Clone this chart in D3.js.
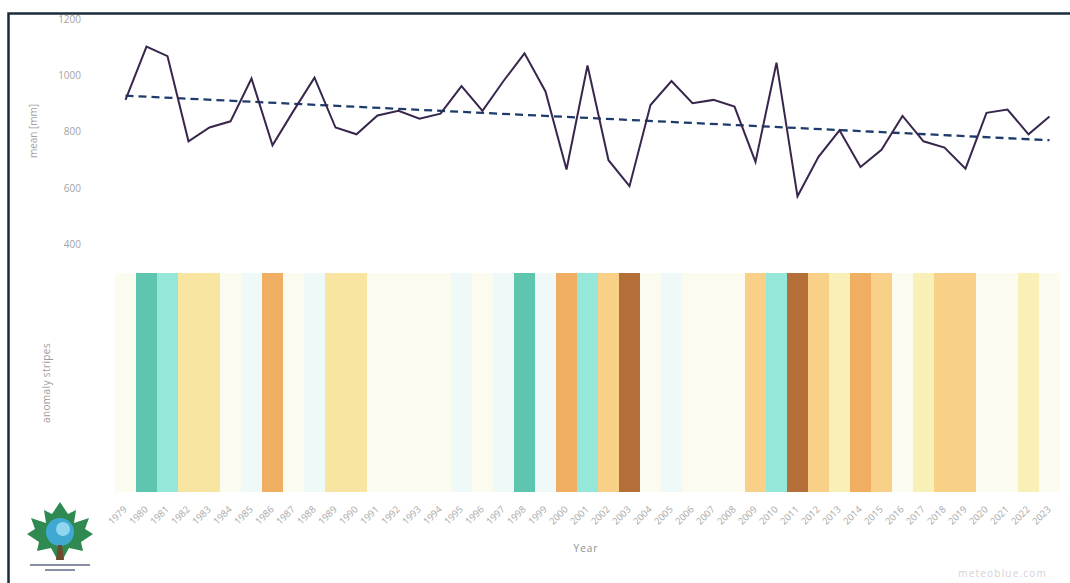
<!DOCTYPE html>
<html>
<head>
<meta charset="utf-8">
<script src="https://cdn.jsdelivr.net/npm/d3@7"></script>
<style>
  html, body { margin: 0; padding: 0; background: #fff; }
  svg { display: block; }
  text { font-family: "Open Sans", "DejaVu Sans", sans-serif; }
</style>
</head>
<body>
<svg id="chart" width="1070" height="583"></svg>
<script>
// ---- data ----
const years = d3.range(1979, 2024);
const precipitation = [
  913, 1102, 1068, 766, 815, 837, 989, 752, 874, 992,
  815, 791, 858, 874, 846, 864, 962, 874, 980, 1078,
  943, 666, 1035, 699, 607, 895, 980, 901, 913, 889,
  693, 1045, 571, 711, 805, 675, 736, 856, 766, 744,
  669, 867, 879, 791, 854
];
const trendEnds = [928, 770];
const anomalyClass = [
  0, 3, 2, -2, -2, 0, 1, -4, 0, 1,
  -2, -2, 0, 0, 0, 0, 1, 0, 1, 3,
  1, -4, 2, -3, -5, 0, 1, 0, 0, 0,
  -3, 2, -5, -3, -1, -4, -3, 0, -1, -3,
  -3, 0, 0, -1, 0
];
const yTicks = [400, 600, 800, 1000, 1200];
const classes = [3, 2, 1, 0, -1, -2, -3, -4, -5];

// ---- scales ----
const svg = d3.select("#chart");
const xb = d3.scaleBand().domain(years).range([115, 1060]).padding(0);
const x = d => xb(d) + xb.bandwidth() / 2;
const y = d3.scaleLinear().domain([400, 1200]).range([244.5, 19]);
const color = d3.scaleOrdinal().domain(classes).range([
  "#5ec5ae", "#95e7da", "#eef9f8", "#fcfbf0", "#f8f0b6",
  "#f8e5a2", "#f8d088", "#f0ae62", "#b46f39"
]);

// ---- stripes ----
svg.append("g").selectAll("rect")
  .data(years)
  .join("rect")
  .attr("x", d => xb(d))
  .attr("y", 273)
  .attr("width", xb.bandwidth() + 0.3)
  .attr("height", 219)
  .attr("fill", (d, i) => color(anomalyClass[i]));

// ---- y axis ----
const yAxis = d3.axisLeft(y).tickValues(yTicks).tickFormat(d3.format("d")).tickSize(0).tickPadding(0);
const gy = svg.append("g").attr("transform", "translate(81,0)").call(yAxis);
gy.select(".domain").remove();
gy.selectAll("text")
  .attr("fill", "#a3a3a3")
  .style("font-size", "10px");

svg.append("text")
  .attr("transform", "translate(37,131) rotate(-90)")
  .attr("text-anchor", "middle")
  .attr("fill", "#a3a3a3")
  .style("font-size", "10px")
  .text("mean [mm]");

svg.append("text")
  .attr("transform", "translate(50,383) rotate(-90)")
  .attr("text-anchor", "middle")
  .attr("fill", "#9b9b9b")
  .style("font-size", "10px")
  .style("letter-spacing", "0.4px")
  .text("anomaly stripes");

// ---- x axis labels (rotated) ----
svg.append("g").selectAll("text")
  .data(years)
  .join("text")
  .attr("transform", d => `translate(${x(d) + 2},510) rotate(-45)`)
  .attr("text-anchor", "end")
  .attr("fill", "#a8a8a8")
  .style("font-size", "9.5px")
  .text(d => d);

svg.append("text")
  .attr("x", 586)
  .attr("y", 552)
  .attr("text-anchor", "middle")
  .attr("fill", "#8f8f8f")
  .style("font-size", "10px")
  .style("letter-spacing", "1px")
  .text("Year");

// ---- trend (dashed) ----
const trendData = [
  { yr: years[0], v: trendEnds[0] },
  { yr: years[years.length - 1], v: trendEnds[1] }
];
svg.append("path")
  .datum(trendData)
  .attr("fill", "none")
  .attr("stroke", "#1d3b6b")
  .attr("stroke-width", 2.3)
  .attr("stroke-dasharray", "8,5")
  .attr("d", d3.line().x(d => x(d.yr)).y(d => y(d.v)));

// ---- precipitation line ----
svg.append("path")
  .datum(years.map((yr, i) => ({ yr, v: precipitation[i] })))
  .attr("fill", "none")
  .attr("stroke", "#38264c")
  .attr("stroke-width", 2)
  .attr("stroke-linejoin", "miter")
  .attr("d", d3.line().x(d => x(d.yr)).y(d => y(d.v)));

// ---- frame ----
svg.append("path")
  .attr("d", "M8.5,583 L8.5,13.5 L1070,13.5")
  .attr("fill", "none")
  .attr("stroke", "#1c2b3c")
  .attr("stroke-width", 2.5);

// ---- watermark ----
svg.append("text")
  .attr("x", 1047)
  .attr("y", 577)
  .attr("text-anchor", "end")
  .attr("fill", "#d2d2d2")
  .style("font-size", "10px")
  .style("letter-spacing", "1.2px")
  .text("meteoblue.com");

// ---- logo (decorative) ----
const logo = svg.append("g").attr("transform", "translate(60,535)");
logo.append("path")
  .attr("d", "M0,-33 L8,-21 L16,-25 L14,-12 L29,-17 L25,-6 L33,-1 L21,7 L23,16 L9,13 L3,24 L-3,24 L-9,13 L-23,16 L-21,7 L-33,-1 L-25,-6 L-29,-17 L-14,-12 L-16,-25 L-8,-21 Z")
  .attr("fill", "#2f8a52");
logo.append("circle").attr("cx", 0).attr("cy", -3).attr("r", 14).attr("fill", "#3fa9d2");
logo.append("circle").attr("cx", 3).attr("cy", -6).attr("r", 7).attr("fill", "#8fd6ee");
logo.append("path").attr("d", "M-2,10 L2,10 L4,25 L-4,25 Z").attr("fill", "#6b4a2e");
logo.append("rect").attr("x", -30).attr("y", 29).attr("width", 60).attr("height", 2).attr("fill", "#8a8fa8");
logo.append("rect").attr("x", -15).attr("y", 34).attr("width", 30).attr("height", 2).attr("fill", "#8a8fa8");
</script>
</body>
</html>
